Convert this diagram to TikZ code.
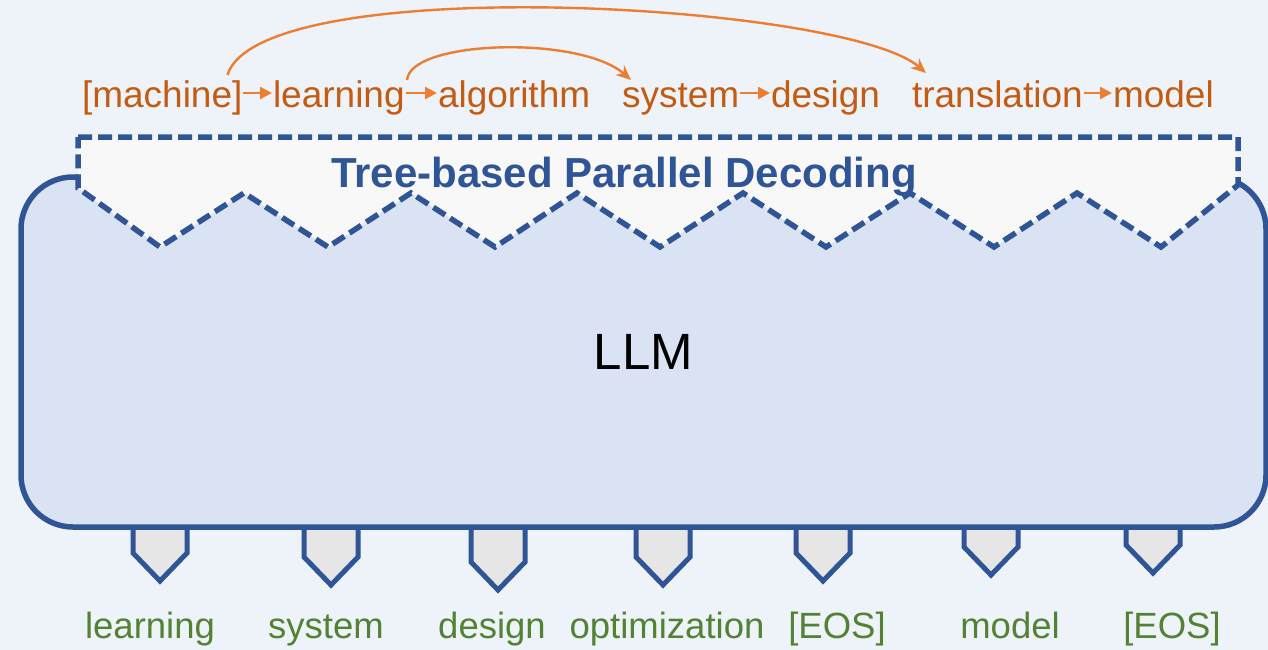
\documentclass[tikz,border=0pt]{standalone}
\usepackage{fontspec}
\setmainfont{Liberation Sans}
\usetikzlibrary{arrows.meta,calc}
\definecolor{bg}{HTML}{EEF3FA}
\definecolor{llmfill}{HTML}{DAE3F3}
\definecolor{navy}{HTML}{2F5597}
\definecolor{paper}{HTML}{F9F8F9}
\definecolor{rust}{HTML}{C55A11}
\definecolor{tangerine}{HTML}{ED7D31}
\definecolor{leaf}{HTML}{548235}
\definecolor{tokgray}{HTML}{E7E6E6}

\begin{document}
\begin{tikzpicture}[x=1pt,y=-1pt,
  word/.style={anchor=base west,inner sep=0pt,outer sep=0pt,text=rust,
    font=\fontsize{37}{44}\selectfont},
  link/.style={draw=tangerine,line width=2.4pt,
    -{Triangle[length=12pt,width=12pt]}},
  jump/.style={draw=tangerine,line width=2.4pt,
    -{Stealth[length=15pt,width=13pt,inset=5pt]}},
  outtok/.style={anchor=base,inner sep=0pt,text=leaf,
    font=\fontsize{36.5}{44}\selectfont},
  tokshape/.style={draw=navy,fill=tokgray,line width=5pt,line join=miter},
  decodebox/.style={draw=navy,fill=paper,line width=5.5pt,
    dash pattern=on 14pt off 6pt,line join=miter},
]
% canvas
\fill[bg] (0,0) rectangle (1268,650);
\useasboundingbox (0,0) rectangle (1268,650);

% output token pointers below the model
\foreach \x/\s in {160/553,331/557,498/562,663/557,823/553,991/547,1153/545}
  \filldraw[tokshape] ({\x-27},515) -- ({\x-27},\s) -- (\x,{\s+28})
    -- ({\x+27},\s) -- ({\x+27},515);

% the model
\node[draw=navy,fill=llmfill,line width=5.5pt,rounded corners=52pt,
  minimum width=1245pt,minimum height=350pt,inner sep=0pt,
  font=\fontsize{51}{60}\selectfont] (llm) at (643.5,352) {LLM};

% tree-based decoding banner
\draw[decodebox] (78,137) -- (1238,137) -- (1238,185)
  -- (1161,247) -- (1077,193) -- (994,247) -- (910,193) -- (826,247)
  -- (743,193) -- (660,247) -- (577,193) -- (495,247) -- (411,193)
  -- (328,247) -- (244,193) -- (160,247) -- (78,188) -- cycle;
\node[anchor=base,inner sep=0pt,text=navy,
  font=\bfseries\fontsize{42}{50}\selectfont] (title) at (624,187)
  {Tree-based Parallel Decoding};

% candidate token tree
\node[word] (w1) at (82,108) {[machine]};
\node[word] (w2) at (273,108) {learning};
\node[word] (w3) at (438,108) {algorithm};
\node[word] (w4) at (622,108) {system};
\node[word] (w5) at (771,108) {design};
\node[word] (w6) at (912,108) {translation};
\node[word] (w7) at (1113,108) {model};

\draw[link] ($(w1.base east)+(1,-15)$) -- ($(w2.base west)+(-1,-15)$);
\draw[link] ($(w2.base east)+(1,-15)$) -- ($(w3.base west)+(-1,-15)$);
\draw[link] ($(w4.base east)+(1,-15)$) -- ($(w5.base west)+(-1,-15)$);
\draw[link] ($(w6.base east)+(1,-15)$) -- ($(w7.base west)+(-1,-15)$);

\draw[jump] ($(w1.base east)+(-15,-33)$) .. controls +(33,-105) and +(-80,-70)
  .. ($(w6.base west)+(14,-35)$);
\draw[jump] ($(w2.base east)+(2.4,-28)$) .. controls +(3,-40) and +(-51,-45)
  .. ($(w4.base west)+(9,-28)$);

% generated tokens
\node[outtok] (o1) at (150,638) {learning};
\node[outtok] (o2) at (326,638) {system};
\node[outtok] (o3) at (492,638) {design};
\node[outtok] (o4) at (667,638) {optimization};
\node[outtok] (o5) at (837,638) {[EOS]};
\node[outtok] (o6) at (1010,638) {model};
\node[outtok] (o7) at (1172,638) {[EOS]};
\end{tikzpicture}
\end{document}
